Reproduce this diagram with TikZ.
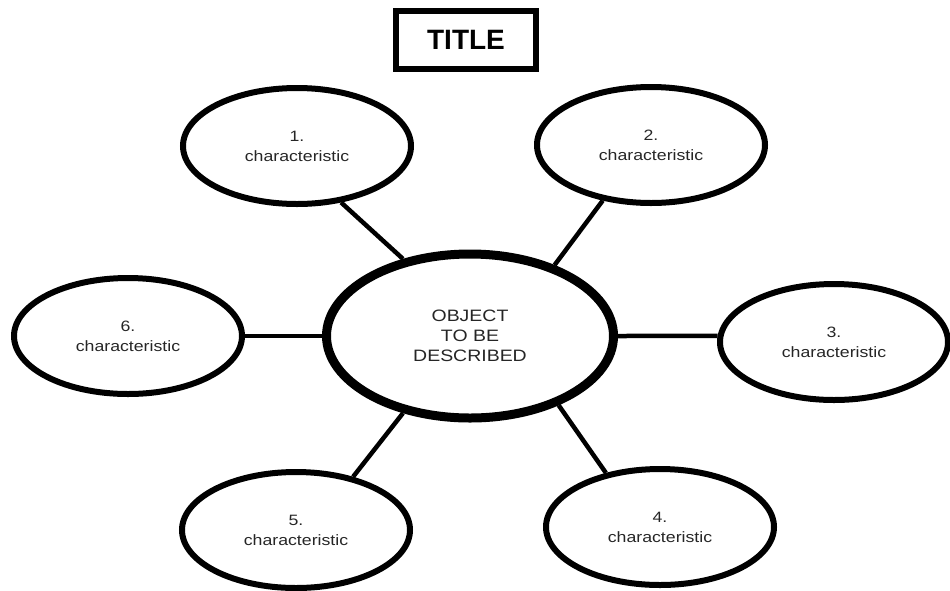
\documentclass[tikz,border=0pt]{standalone}
\usepackage{fontspec}
\setmainfont{Liberation Sans}
\newfontfamily\widefont[FakeStretch=1.18]{Liberation Sans}
\usepackage{tikz}
\usetikzlibrary{shapes.geometric, positioning}

\begin{document}
\begin{tikzpicture}[x=1pt, y=-1pt]
    \tikzstyle{trait} = [draw, ellipse, line width=6pt, inner sep=0pt, minimum width=228pt, minimum height=116pt, align=center, text=black!85, font=\widefont\fontsize{15}{20}\selectfont]
    \tikzstyle{link} = [line width=4.5pt]
    \useasboundingbox (0,0) rectangle (950,590);
    \node [draw, line width=6pt, minimum width=140pt, minimum height=58pt, font=\bfseries\fontsize{28}{30}\selectfont] at (466,40) (title) {TITLE};
    \node [draw, ellipse, line width=9pt, inner sep=0pt, minimum width=287pt, minimum height=164pt, align=center, text=black!85, font=\widefont\fontsize{16.5}{20}\selectfont] at (470,336) (object) {OBJECT\\TO BE\\DESCRIBED};
    \node [trait] at (297,146) (char1) {1.\\characteristic};
    \node [trait] at (651,145) (char2) {2.\\characteristic};
    \node [trait] at (834,342) (char3) {3.\\characteristic};
    \node [trait] at (660,527) (char4) {4.\\characteristic};
    \node [trait] at (296,530) (char5) {5.\\characteristic};
    \node [trait] at (128,336) (char6) {6.\\characteristic};
    \draw[link] (char1.-52) -- (object.131);
    \draw[link] (char2.229) -- (object.40);
    \draw[link] (object.0) -- (char3.177);
    \draw[link] (char4.135) -- (object.-38);
    \draw[link] (char5.43) -- (object.229.5);
    \draw[link] (char6.east) -- (object.west);
\end{tikzpicture}
\end{document}
